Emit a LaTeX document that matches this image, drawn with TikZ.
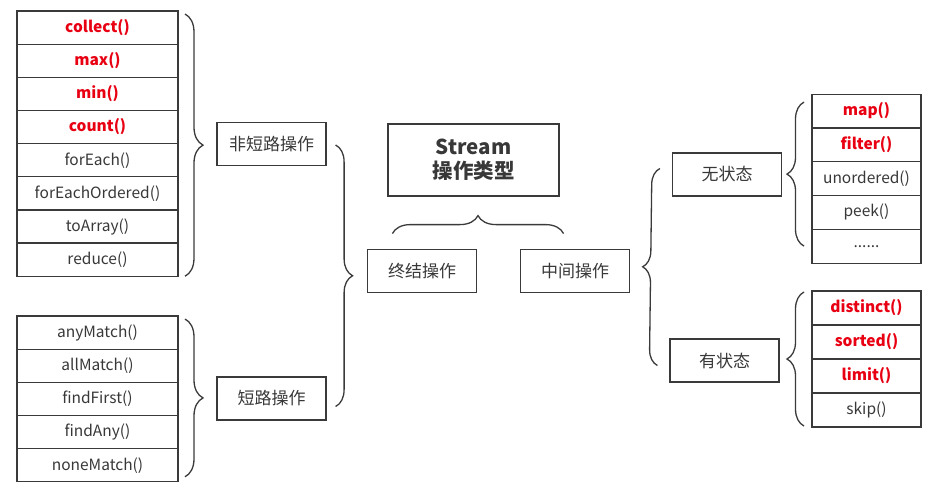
\documentclass[tikz,border=0pt]{standalone}
\usepackage{fontspec}
\setmainfont{Noto Sans CJK SC}
\usetikzlibrary{positioning,calc,decorations.pathreplacing}
\definecolor{linegray}{RGB}{58,58,58}
\definecolor{textgray}{RGB}{56,56,56}
\definecolor{opred}{RGB}{232,0,18}

\begin{document}
\begin{tikzpicture}[x=1pt,y=-1pt,
    op/.style={draw=linegray,line width=1.2pt,minimum width=161pt,minimum height=33.15pt,inner sep=0pt,outer sep=0pt,text=textgray,font=\fontsize{15.5}{17}\selectfont},
    rop/.style={op,minimum width=109pt,minimum height=33.8pt},
    hot/.style={text=opred,font=\fontsize{15.5}{17}\selectfont\bfseries},
    kind/.style={draw=linegray,line width=1.2pt,minimum width=109pt,minimum height=43pt,inner sep=0pt,text=textgray,font=\fontsize{17}{19}\selectfont},
    group/.style={draw=linegray,line width=1.3pt,decorate,decoration={brace,amplitude=#1}},
    group/.default=17pt]
    \useasboundingbox (0,0) rectangle (934,495);

    % terminal operations, not short-circuiting
    \node[op,hot] (collect) at (97.5,27.6) {collect()};
    \node[op,hot,below=0pt of collect] (max) {max()};
    \node[op,hot,below=0pt of max] (min) {min()};
    \node[op,hot,below=0pt of min] (count) {count()};
    \node[op,below=0pt of count] (forEach) {forEach()};
    \node[op,below=0pt of forEach] (forEachOrdered) {forEachOrdered()};
    \node[op,below=0pt of forEachOrdered] (toArray) {toArray()};
    \node[op,below=0pt of toArray] (reduce) {reduce()};

    % terminal operations, short-circuiting
    \node[op] (anyMatch) at (97.5,332.6) {anyMatch()};
    \node[op,below=0pt of anyMatch] (allMatch) {allMatch()};
    \node[op,below=0pt of allMatch] (findFirst) {findFirst()};
    \node[op,below=0pt of findFirst] (findAny) {findAny()};
    \node[op,below=0pt of findAny] (noneMatch) {noneMatch()};

    \node[kind] (nonshort) at (271.5,144) {非短路操作};
    \node[kind] (short) at (271.5,398.5) {短路操作};

    \node[draw=linegray,line width=1.2pt,minimum width=171pt,minimum height=72pt,align=center,
          text=textgray,font=\fontsize{20.5}{24}\selectfont\bfseries] (stream) at (473.5,160) {Stream\\操作类型};
    \node[kind] (terminal) at (422,271) {终结操作};
    \node[kind] (middle) at (575,271) {中间操作};

    \node[kind] (stateless) at (727,174.5) {无状态};
    \node[kind] (stateful) at (724.5,360.5) {有状态};

    % intermediate operations, stateless
    \node[rop,hot] (map) at (866.5,111) {map()};
    \node[rop,hot,below=0pt of map] (filter) {filter()};
    \node[rop,below=0pt of filter] (unordered) {unordered()};
    \node[rop,below=0pt of unordered] (peek) {peek()};
    \node[rop,below=0pt of peek] (more) {......};

    % intermediate operations, stateful
    \node[rop,hot,minimum height=34pt] (distinct) at (866.5,308) {distinct()};
    \node[rop,hot,minimum height=34pt,below=0pt of distinct] (sorted) {sorted()};
    \node[rop,hot,minimum height=34pt,below=0pt of sorted] (limit) {limit()};
    \node[rop,minimum height=34pt,below=0pt of limit] (skip) {skip()};

    % braces
    \draw[group=18pt] ($(collect.north east)+(7,3)$) -- ($(reduce.south east)+(7,0)$);
    \draw[group=18pt] ($(anyMatch.north east)+(7,3)$) -- ($(noneMatch.south east)+(7,-5)$);
    \draw[group=17pt] ($(nonshort.east)+(9,1)$) -- ($(short.east)+(9,8)$);
    \draw[group=18pt] ($(stream.south west)+(5,37)$) -- ($(stream.south east)+(4,37)$);
    \draw[group=16pt] ($(stateful.west)+(-12,5)$) -- ($(stateless.west)+(-12,-6)$);
    \draw[group=17pt] ($(more.south west)+(-8,-17)$) -- ($(map.north west)+(-8,8)$);
    \draw[group=17pt] ($(skip.south west)+(-8,-1)$) -- ($(distinct.north west)+(-8,1)$);
\end{tikzpicture}
\end{document}
